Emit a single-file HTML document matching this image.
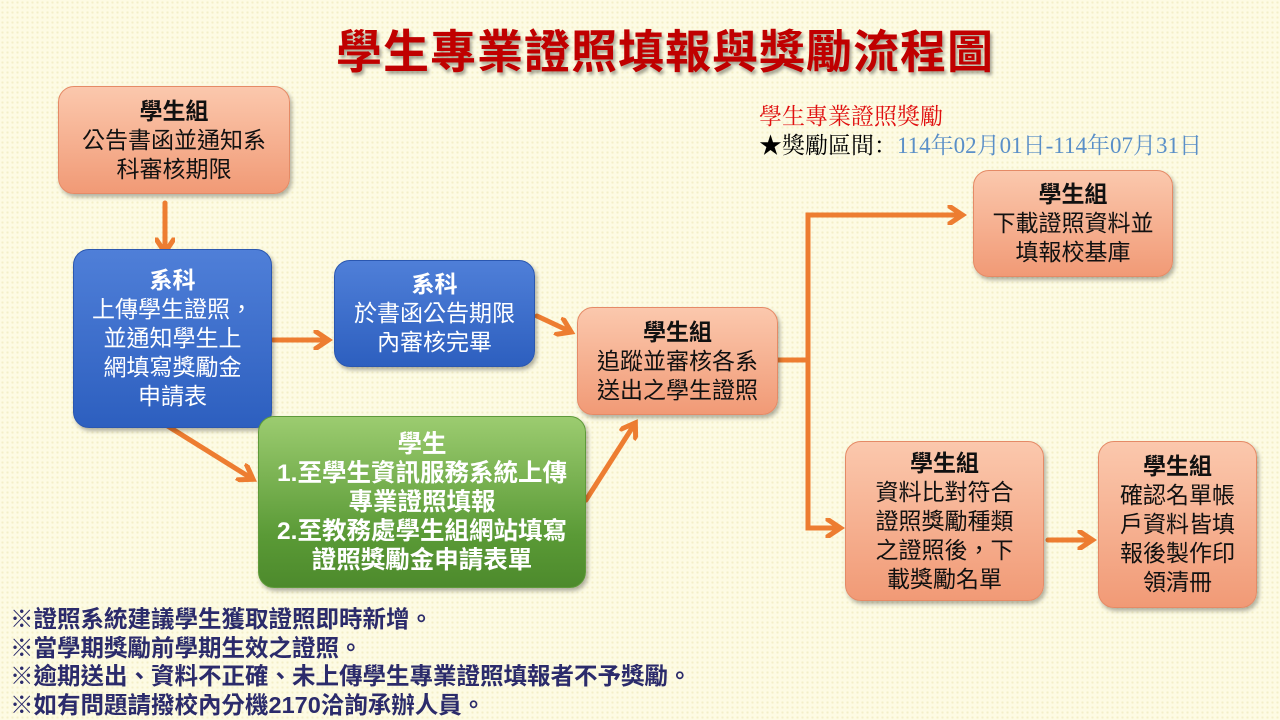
<!DOCTYPE html>
<html><head><meta charset="utf-8"><style>
body{margin:0;width:1280px;height:720px;overflow:hidden;font-family:"Liberation Sans","Noto Sans CJK TC",sans-serif;
background-color:#fdfbe4;background-image:radial-gradient(circle,#f3efc8 1px,transparent 1.3px);background-size:5px 5px;position:relative}
.b{position:absolute;border-radius:16px;display:flex;flex-direction:column;justify-content:center;align-items:center;text-align:center;font-size:23px;line-height:29px;box-shadow:2px 3px 4px rgba(0,0,0,.3)}
.o{background:linear-gradient(#fbc8ad,#f19a76);border:1px solid #e58a66;color:#111}
.u{background:linear-gradient(#4f7fd8,#2d5fbf);border:1px solid #2a57b0;color:#fff}
.g{background:linear-gradient(#9ccc70,#5a9a36 70%,#4d8a2c);border:1px solid #5e9a3a;color:#fff}
.b b{font-weight:bold}
.title{position:absolute;left:0;width:1330px;top:16px;text-align:center;font-size:46px;font-weight:bold;color:#c00000;text-shadow:2px 3px 3px rgba(0,0,0,.35);letter-spacing:1px}
.notes{position:absolute;left:10px;top:605px;font-size:23.5px;line-height:28.7px;font-weight:bold;color:#2b2b6b}
.info{position:absolute;left:759px;top:102px;font-family:"Liberation Serif","Noto Serif CJK SC",serif;font-size:23px;line-height:29px}
</style></head><body>
<div class="title">學生專業證照填報與獎勵流程圖</div>
<div class="info"><div style="color:#e01010">學生專業證照獎勵</div><div>★獎勵區間：<span style="color:#5a8fc8">114年02月01日-114年07月31日</span></div></div>

<svg width="1280" height="720" style="position:absolute;left:0;top:0">
<defs><marker id="a" markerWidth="4" markerHeight="4" refX="2.5" refY="2" orient="auto" markerUnits="strokeWidth"><path d="M0,0 L3,2 L0,4" fill="none" stroke="#ed7d31" stroke-width="1"/></marker></defs>
<g stroke="#ed7d31" stroke-width="5" fill="none" stroke-linecap="round">
<line x1="165" y1="203" x2="165" y2="250" marker-end="url(#a)"/>
<line x1="273" y1="340" x2="326" y2="340" marker-end="url(#a)"/>
<line x1="537" y1="316" x2="569" y2="331" marker-end="url(#a)"/>
<line x1="166" y1="425" x2="251" y2="478" marker-end="url(#a)"/>
<line x1="586" y1="500" x2="634" y2="425" marker-end="url(#a)"/>
<polyline points="778,360 808,360 808,215 960,215" marker-end="url(#a)"/>
<polyline points="808,360 808,528 838,528" marker-end="url(#a)"/>
<line x1="1048" y1="540" x2="1090" y2="540" marker-end="url(#a)"/>
</g></svg>

<div class="b o" style="left:58px;top:86px;width:230px;height:106px"><b>學生組</b>公告書函並通知系<br>科審核期限</div>
<div class="b u" style="left:73px;top:249px;width:197px;height:177px"><b>系科</b>上傳學生證照，<br>並通知學生上<br>網填寫獎勵金<br>申請表</div>
<div class="b u" style="left:334px;top:260px;width:199px;height:105px"><b>系科</b>於書函公告期限<br>內審核完畢</div>
<div class="b o" style="left:577px;top:307px;width:199px;height:106px"><b>學生組</b>追蹤並審核各系<br>送出之學生證照</div>
<div class="b g" style="left:258px;top:416px;width:326px;height:170px;font-weight:bold;font-size:24.5px"><div>學生</div>1.至學生資訊服務系統上傳<br>專業證照填報<br>2.至教務處學生組網站填寫<br>證照獎勵金申請表單</div>
<div class="b o" style="left:973px;top:170px;width:198px;height:105px"><b>學生組</b>下載證照資料並<br>填報校基庫</div>
<div class="b o" style="left:845px;top:441px;width:197px;height:158px"><b>學生組</b>資料比對符合<br>證照獎勵種類<br>之證照後，下<br>載獎勵名單</div>
<div class="b o" style="left:1098px;top:441px;width:157px;height:165px"><b>學生組</b>確認名單帳<br>戶資料皆填<br>報後製作印<br>領清冊</div>

<div class="notes">※證照系統建議學生獲取證照即時新增。<br>※當學期獎勵前學期生效之證照。<br>※逾期送出、資料不正確、未上傳學生專業證照填報者不予獎勵。<br>※如有問題請撥校內分機2170洽詢承辦人員。</div>
</body></html>
